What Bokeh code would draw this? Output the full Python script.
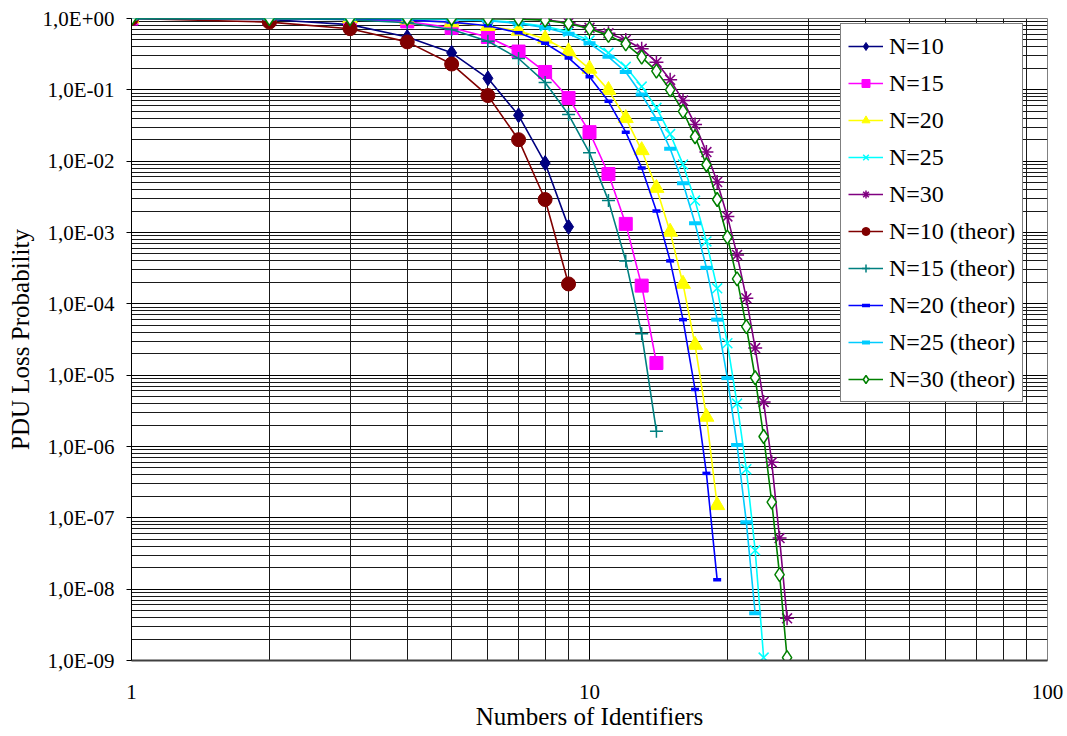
from bokeh.plotting import figure
from bokeh.models import (FixedTicker, CustomJSTickFormatter, Legend, LegendItem,
                          Range1d, ColumnDataSource)
from bokeh.embed import file_html
from bokeh.resources import INLINE

# ---------------- data ----------------
ids_10 = [1, 2, 3, 4, 5, 6, 7, 8, 9]
ids_15 = ids_10 + [10, 11, 12, 13, 14]
ids_20 = ids_15 + [15, 16, 17, 18, 19]
ids_25_theor = ids_20 + [20, 21, 22, 23]
ids_25 = ids_25_theor + [24]
ids_30 = ids_25 + [25, 26, 27]

n10_sim = [1.0, 0.97, 0.82, 0.55, 0.33, 0.145, 0.044, 0.0094, 0.0012]
n15_sim = [1.0, 1.0, 0.97, 0.91, 0.74, 0.55, 0.344, 0.178, 0.077, 0.0255, 0.0066,
           0.00132, 0.00018, 1.48e-5]
n20_sim = [1.0, 1.0, 1.0, 0.96, 0.88, 0.78, 0.67, 0.52, 0.345, 0.197, 0.099, 0.040,
           0.0142, 0.0042, 0.00102, 1.9e-4, 2.65e-5, 2.6e-6, 1.5e-7]
n25_sim = [1.0, 1.0, 1.0, 1.0, 0.98, 0.94, 0.87, 0.78, 0.65, 0.49, 0.33, 0.21, 0.111,
           0.056, 0.024, 0.0090, 0.0028, 7.5e-4, 1.65e-4, 2.8e-5, 4.0e-6, 4.8e-7,
           3.5e-8, 1.1e-9]
n30_sim = [1.0, 1.0, 1.0, 1.0, 1.0, 1.0, 0.99, 0.96, 0.87, 0.74, 0.62, 0.50, 0.376,
           0.244, 0.138, 0.071, 0.0327, 0.0134, 0.0051, 0.00168, 4.85e-4, 1.2e-4,
           2.4e-5, 4.2e-6, 6.0e-7, 5.2e-8, 3.9e-9]
n10_theor = [1.0, 0.89, 0.72, 0.47, 0.23, 0.083, 0.020, 0.0029, 0.00019]
n15_theor = [1.0, 1.0, 0.96, 0.87, 0.70, 0.48, 0.275, 0.127, 0.045, 0.0131, 0.0028,
             4.0e-4, 3.8e-5, 1.63e-6]
n20_theor = [1.0, 1.0, 0.99, 0.95, 0.89, 0.79, 0.63, 0.45, 0.28, 0.153, 0.069, 0.0255,
             0.0080, 0.0020, 4.0e-4, 6.0e-5, 6.3e-6, 4.2e-7, 1.35e-8]
n25_theor = [1.0, 1.0, 1.0, 0.99, 0.97, 0.93, 0.85, 0.74, 0.61, 0.45, 0.29, 0.178,
             0.086, 0.039, 0.0149, 0.0049, 0.00135, 3.2e-4, 6.0e-5, 9.1e-6, 1.05e-6,
             8.7e-8, 4.6e-9]
n30_theor = [1.0, 1.0, 1.0, 1.0, 1.0, 0.99, 0.98, 0.95, 0.85, 0.72, 0.58, 0.44, 0.287,
             0.183, 0.10, 0.050, 0.022, 0.0089, 0.0029, 8.6e-4, 2.24e-4, 4.8e-5, 9.2e-6,
             1.38e-6, 1.66e-7, 1.6e-8, 1.1e-9]

series_labels = ["N=10", "N=15", "N=20", "N=25", "N=30",
                 "N=10 (theor)", "N=15 (theor)", "N=20 (theor)", "N=25 (theor)",
                 "N=30 (theor)"]
x_label = "Numbers of Identifiers"
y_label = "PDU Loss Probability"

FONT = "Liberation Serif"

p = figure(width=1067, height=736, x_axis_type="log", y_axis_type="log",
           x_range=Range1d(1, 100), y_range=Range1d(1e-9, 1),
           output_backend="svg", toolbar_location=None,
           min_border_left=131, min_border_right=20, min_border_top=18,
           min_border_bottom=76)
p.background_fill_color = "white"
p.border_fill_color = "white"
p.outline_line_color = "#808080"
p.outline_line_width = 1

# ticks
y_major = [10.0 ** k for k in range(-9, 1)]
y_minor = [m * 10.0 ** k for k in range(-9, 0) for m in range(2, 10)]
x_major = [1, 10, 100]
x_minor = [m * 10 ** k for k in range(0, 2) for m in range(2, 10)]

p.yaxis.ticker = FixedTicker(ticks=y_major, minor_ticks=y_minor)
p.xaxis.ticker = FixedTicker(ticks=x_major, minor_ticks=x_minor)
p.yaxis.formatter = CustomJSTickFormatter(code="""
const e = Math.round(Math.log10(tick));
const s = e < 0 ? "-" : "+";
const a = Math.abs(e);
return "1,0E" + s + (a < 10 ? "0" + a : "" + a);
""")
p.xaxis.formatter = CustomJSTickFormatter(code="return String(Math.round(tick));")

for ax in (p.xaxis[0], p.yaxis[0]):
    ax.major_label_text_font = FONT
    ax.major_label_text_font_size = "21px"
    ax.major_label_text_color = "black"
    ax.axis_label_text_font = FONT
    ax.axis_label_text_font_size = "25px"
    ax.axis_label_text_font_style = "normal"
    ax.axis_label_text_color = "black"
    ax.minor_tick_in = 0
    ax.minor_tick_out = 0
    ax.major_tick_in = 0

p.xaxis.axis_label = x_label
p.yaxis.axis_label = y_label
p.xaxis.major_tick_out = 0
p.xaxis.axis_line_color = "#404040"
p.xaxis.axis_line_width = 2
p.xaxis.major_label_standoff = 24
p.xaxis.axis_label_standoff = 1
p.yaxis.major_tick_out = 5
p.yaxis.major_tick_line_color = "black"
p.yaxis.axis_line_color = "black"
p.yaxis.major_label_standoff = 12
p.yaxis.axis_label_standoff = 6

for g in (p.xgrid[0], p.ygrid[0]):
    g.grid_line_color = "black"
    g.grid_line_width = 1
    g.minor_grid_line_color = "#1a1a1a"
    g.minor_grid_line_width = 1

series = [
    (ids_10, n10_sim, "#000080", dict(marker="diamond", size=15, fill_color="#000080")),
    (ids_15, n15_sim, "#FF00FF", dict(marker="square", size=13, fill_color="#FF00FF")),
    (ids_20, n20_sim, "#FFFF00", dict(marker="triangle", size=15, fill_color="#FFFF00")),
    (ids_25, n25_sim, "#00FFFF", dict(marker="x", size=14, fill_color=None, line_width=1.5)),
    (ids_30, n30_sim, "#800080", dict(marker="asterisk", size=14, fill_color=None, line_width=1.5)),
    (ids_10, n10_theor, "#800000", dict(marker="circle", size=14, fill_color="#800000")),
    (ids_15, n15_theor, "#008080", dict(marker="cross", size=13, fill_color=None, line_width=1.5)),
    (ids_20, n20_theor, "#0000FF", dict(marker="dash", size=8, fill_color=None, line_width=3.5)),
    (ids_25_theor, n25_theor, "#00CCFF", dict(marker="dash", size=12, fill_color=None, line_width=4)),
    (ids_30, n30_theor, "#008000", dict(marker="diamond", size=14, fill_color="white", line_width=1.5)),
]

items = []
for (xs, ys, color, mk), label in zip(series, series_labels):
    src = ColumnDataSource(dict(x=xs, y=ys))
    ln = p.line("x", "y", source=src, line_color=color, line_width=1.6)
    kw = dict(mk)
    marker = kw.pop("marker")
    sc = p.scatter("x", "y", source=src, marker=marker, line_color=color, **kw)
    items.append(LegendItem(label=label, renderers=[ln, sc]))

legend = Legend(items=items, location=(709, 258))
legend.label_text_font = FONT
legend.label_text_font_size = "24px"
legend.label_text_color = "black"
legend.border_line_color = "black"
legend.border_line_width = 1
legend.background_fill_color = "white"
legend.background_fill_alpha = 1
legend.glyph_width = 35
legend.glyph_height = 20
legend.label_height = 30
legend.spacing = 7
legend.padding = 7
legend.margin = 0
legend.label_standoff = 6
p.add_layout(legend, "center")

open("out.html", "w").write(file_html(p, INLINE))
